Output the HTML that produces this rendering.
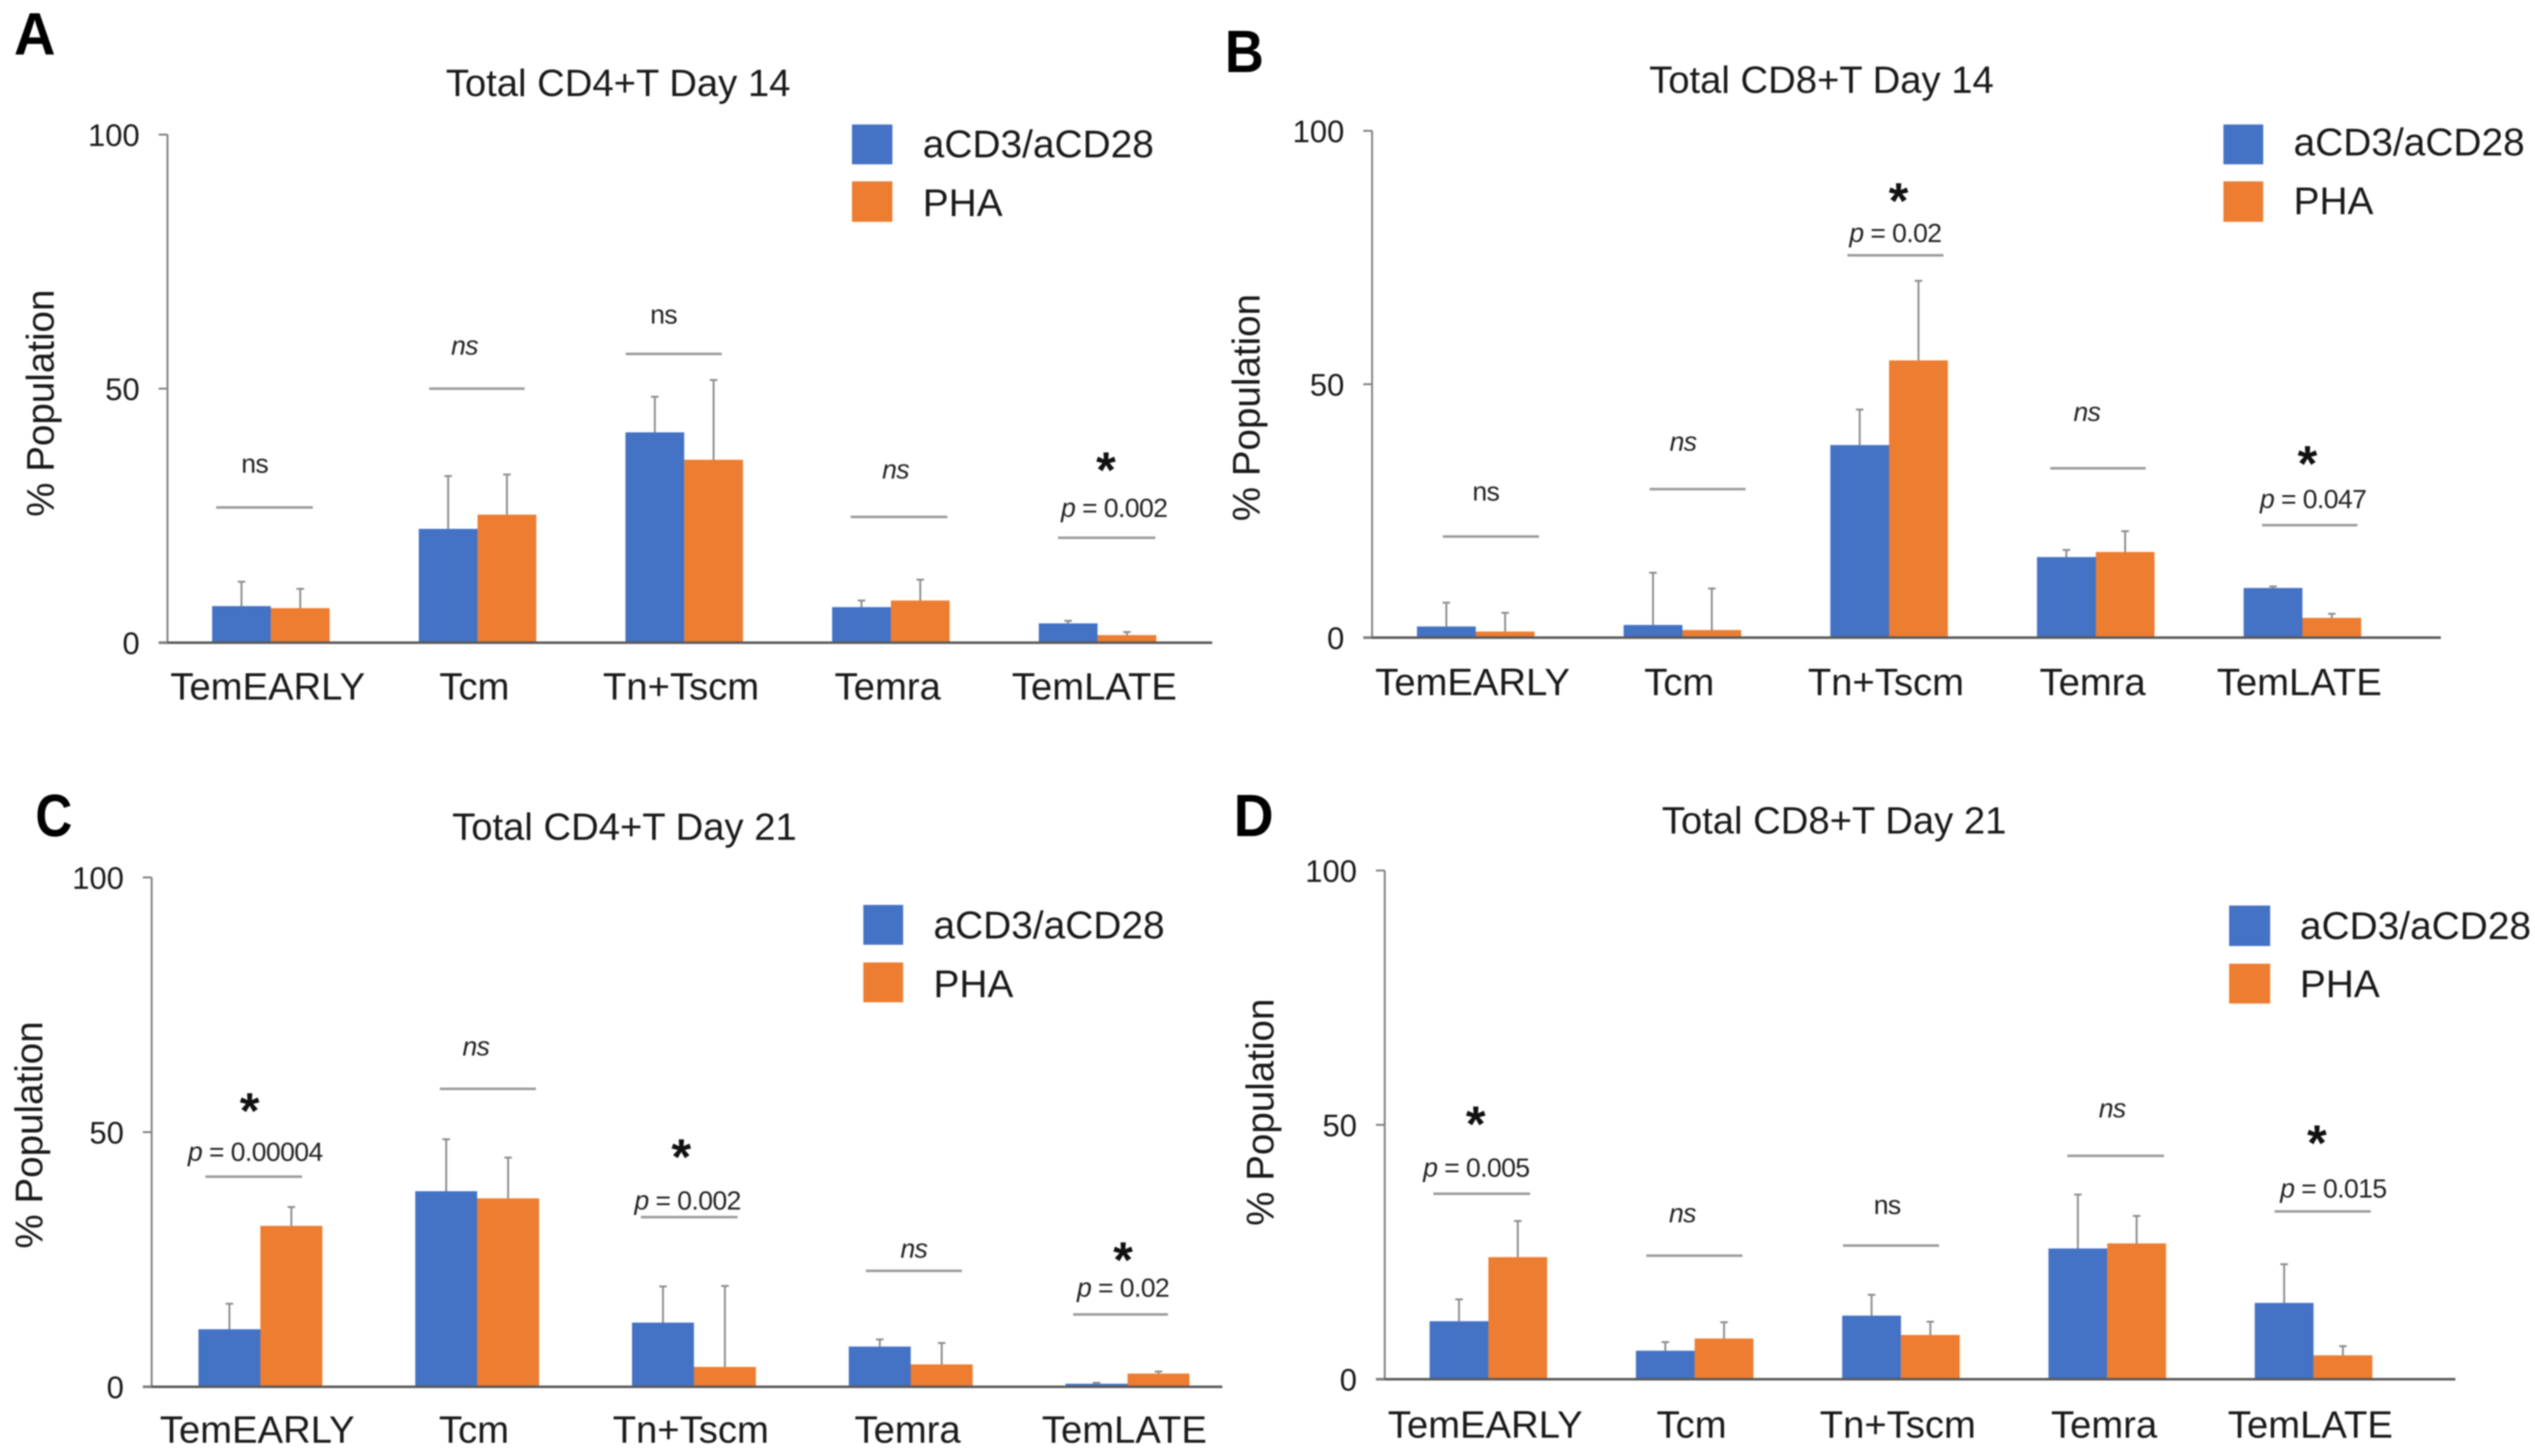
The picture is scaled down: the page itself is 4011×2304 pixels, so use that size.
<!DOCTYPE html>
<html lang="en">
<head>
<meta charset="utf-8">
<title>T cell memory subsets: aCD3/aCD28 vs PHA</title>
<style>
  html, body { margin: 0; padding: 0; background: #fff; }
  svg { display: block; font-family: "Liberation Sans", sans-serif; filter: blur(1px); }
  .sig { stroke: #9a9a9a; stroke-width: 4; }
  .note { font-size: 42px; letter-spacing: -0.9px; text-anchor: middle; fill: #222; }
  .ital { font-style: italic; }
  .star { font-size: 80px; font-weight: 700; text-anchor: middle; fill: #111; }
  .letter { font-size: 95px; font-weight: 700; fill: #000; }
  .title { font-size: 60.5px; text-anchor: middle; fill: #1a1a1a; }
  .legend-label { font-size: 61.5px; fill: #1a1a1a; }
</style>
</head>
<body>
<svg id="figure" xmlns="http://www.w3.org/2000/svg" width="4011" height="2304" viewBox="0 0 4011 2304">
  <rect width="4011" height="2304" fill="#fff"/>

  <g id="panel-a">
    <text class="letter" transform="translate(22 86) scale(.96 1)">A</text>
    <text class="title" x="978" y="152">Total CD4+T Day 14</text>
    <text font-size="61" fill="#1a1a1a" text-anchor="middle" transform="translate(85 638) rotate(-90)">% Population</text>
    <g>
      <rect x="1348" y="197" width="64" height="63" fill="#4472c4"/>
      <text class="legend-label" x="1460" y="249">aCD3/aCD28</text>
      <rect x="1348" y="287" width="64" height="64" fill="#ed7d31"/>
      <text class="legend-label" x="1460" y="342">PHA</text>
    </g>
    <g>
      <line class="sig" x1="342" x2="495" y1="803" y2="803"/>
      <text class="note" x="403" y="748">ns</text>
      <line class="sig" x1="679" x2="830" y1="615" y2="615"/>
      <text class="note ital" x="735" y="561">ns</text>
      <line class="sig" x1="990" x2="1142" y1="560" y2="560"/>
      <text class="note" x="1050" y="512">ns</text>
      <line class="sig" x1="1346" x2="1499" y1="818" y2="818"/>
      <text class="note ital" x="1417" y="757">ns</text>
      <line class="sig" x1="1674" x2="1828" y1="851" y2="851"/>
      <text class="star" x="1750" y="771">*</text>
      <text class="note" x="1763" y="818"><tspan class="ital">p</tspan> = 0.002</text>
    </g>
  </g>

  <g id="panel-b">
    <text class="letter" transform="translate(1938 114) scale(.9 1)">B</text>
    <text class="title" x="2882" y="147">Total CD8+T Day 14</text>
    <text font-size="61" fill="#1a1a1a" text-anchor="middle" transform="translate(1993 645) rotate(-90)">% Population</text>
    <g>
      <rect x="3518" y="197" width="63" height="63" fill="#4472c4"/>
      <text class="legend-label" x="3629" y="246">aCD3/aCD28</text>
      <rect x="3518" y="287" width="63" height="64" fill="#ed7d31"/>
      <text class="legend-label" x="3629" y="339">PHA</text>
    </g>
    <g>
      <line class="sig" x1="2283" x2="2435" y1="849" y2="849"/>
      <text class="note" x="2351" y="792">ns</text>
      <line class="sig" x1="2610" x2="2762" y1="774" y2="774"/>
      <text class="note ital" x="2663" y="713">ns</text>
      <line class="sig" x1="2923" x2="3075" y1="404" y2="404"/>
      <text class="star" x="3004" y="345">*</text>
      <text class="note" x="2999" y="383"><tspan class="ital">p</tspan> = 0.02</text>
      <line class="sig" x1="3244" x2="3395" y1="741" y2="741"/>
      <text class="note ital" x="3302" y="666">ns</text>
      <line class="sig" x1="3579" x2="3730" y1="831" y2="831"/>
      <text class="star" x="3651" y="761">*</text>
      <text class="note" x="3660" y="804"><tspan class="ital">p</tspan> = 0.047</text>
    </g>
  </g>

  <g id="panel-c">
    <text class="letter" transform="translate(56 1323) scale(.85 1)">C</text>
    <text class="title" x="988" y="1329">Total CD4+T Day 21</text>
    <text font-size="61" fill="#1a1a1a" text-anchor="middle" transform="translate(67 1796) rotate(-90)">% Population</text>
    <g>
      <rect x="1366" y="1432" width="63" height="63" fill="#4472c4"/>
      <text class="legend-label" x="1477" y="1485">aCD3/aCD28</text>
      <rect x="1366" y="1523" width="63" height="63" fill="#ed7d31"/>
      <text class="legend-label" x="1477" y="1578">PHA</text>
    </g>
    <g>
      <line class="sig" x1="325" x2="478" y1="1862" y2="1862"/>
      <text class="star" x="395" y="1785">*</text>
      <text class="note" x="404" y="1837"><tspan class="ital">p</tspan> = 0.00004</text>
      <line class="sig" x1="696" x2="848" y1="1723" y2="1723"/>
      <text class="note ital" x="753" y="1670">ns</text>
      <line class="sig" x1="1014" x2="1167" y1="1926" y2="1926"/>
      <text class="star" x="1078" y="1858">*</text>
      <text class="note" x="1088" y="1914"><tspan class="ital">p</tspan> = 0.002</text>
      <line class="sig" x1="1370" x2="1522" y1="2011" y2="2011"/>
      <text class="note ital" x="1446" y="1990">ns</text>
      <line class="sig" x1="1698" x2="1848" y1="2080" y2="2080"/>
      <text class="star" x="1777" y="2021">*</text>
      <text class="note" x="1777" y="2052"><tspan class="ital">p</tspan> = 0.02</text>
    </g>
  </g>

  <g id="panel-d">
    <text class="letter" transform="translate(1952 1323) scale(.92 1)">D</text>
    <text class="title" x="2902" y="1319">Total CD8+T Day 21</text>
    <text font-size="61" fill="#1a1a1a" text-anchor="middle" transform="translate(2015 1760) rotate(-90)">% Population</text>
    <g>
      <rect x="3527" y="1433" width="65" height="64" fill="#4472c4"/>
      <text class="legend-label" x="3639" y="1486">aCD3/aCD28</text>
      <rect x="3527" y="1525" width="65" height="63" fill="#ed7d31"/>
      <text class="legend-label" x="3639" y="1578">PHA</text>
    </g>
    <g>
      <line class="sig" x1="2268" x2="2421" y1="1889" y2="1889"/>
      <text class="star" x="2335" y="1806">*</text>
      <text class="note" x="2336" y="1862"><tspan class="ital">p</tspan> = 0.005</text>
      <line class="sig" x1="2605" x2="2757" y1="1987" y2="1987"/>
      <text class="note ital" x="2662" y="1934">ns</text>
      <line class="sig" x1="2916" x2="3068" y1="1971" y2="1971"/>
      <text class="note" x="2986" y="1921">ns</text>
      <line class="sig" x1="3271" x2="3424" y1="1829" y2="1829"/>
      <text class="note ital" x="3342" y="1768">ns</text>
      <line class="sig" x1="3599" x2="3751" y1="1917" y2="1917"/>
      <text class="star" x="3666" y="1836">*</text>
      <text class="note" x="3692" y="1895"><tspan class="ital">p</tspan> = 0.015</text>
    </g>
  </g>
</svg>

<script>
const categories = ["TemEARLY", "Tcm", "Tn+Tscm", "Temra", "TemLATE"];
const yTickValues = [0, 50, 100];

const aBlue = [7.2, 22.4, 41.4, 7, 3.8];
const aOrange = [6.8, 25.2, 36, 8.3, 1.5];
const aBlueErr = [4.8, 10.4, 7, 1.3, 0.5];
const aOrangeErr = [3.8, 7.9, 15.7, 4.1, 0.6];

const bBlue = [2.2, 2.5, 38, 15.9, 9.8];
const bOrange = [1.2, 1.5, 54.7, 16.9, 3.9];
const bBlueErr = [4.7, 10.3, 7, 1.4, 0.3];
const bOrangeErr = [3.7, 8.2, 15.7, 4.1, 0.8];

const cBlue = [11.3, 38.4, 12.6, 7.9, 0.6];
const cOrange = [31.6, 37, 3.9, 4.4, 2.6];
const cBlueErr = [5, 10.2, 7.1, 1.4, 0.2];
const cOrangeErr = [3.7, 8, 15.9, 4.2, 0.4];

const dBlue = [11.4, 5.6, 12.5, 25.7, 15];
const dOrange = [24, 8, 8.7, 26.7, 4.7];
const dBlueErr = [4.3, 1.7, 4.1, 10.6, 7.6];
const dOrangeErr = [7.1, 3.2, 2.6, 5.4, 1.8];

const NS = "http://www.w3.org/2000/svg";

function make(tag, parent, attrs, text) {
  const el = document.createElementNS(NS, tag);
  for (const k in attrs) el.setAttribute(k, attrs[k]);
  if (text !== undefined) el.textContent = text;
  parent.appendChild(el);
  return el;
}

function drawSeries(group, values, errors, xScale, yScale, side, barW, fill, seriesName) {
  values.forEach(function (v, i) {
    const left = side === 0 ? xScale(i) - barW : xScale(i);
    const bar = make("rect", group, { x: left, y: yScale(v), width: barW, height: yScale(0) - yScale(v), fill: fill });
    
    

    const cx = left + barW / 2;
    const top = yScale(v + errors[i]);
    const stem = make("line", group, { x1: cx, x2: cx, y1: yScale(v), y2: top, stroke: "#8c8c8c", "stroke-width": 3 });
    
    
    const cap = make("line", group, { x1: cx - 6, x2: cx + 6, y1: top, y2: top, stroke: "#8c8c8c", "stroke-width": 3 });
    
    
  });
}

function drawPanel(panelId, blue, orange, blueErr, orangeErr, g) {
  const root = document.getElementById(panelId);
  const chart = make("g", root, {});
  
  

  const yScale = function (v) { return g.y0 + (g.y100 - g.y0) * v / 100; };
  const xScale = function (i) { return g.firstCenter + g.step * i; };

  drawSeries(chart, blue, blueErr, xScale, yScale, 0, g.barW, "#4472c4", "acd3");
  drawSeries(chart, orange, orangeErr, xScale, yScale, 1, g.barW, "#ed7d31", "pha");

  const yAxis = make("line", chart, { x1: g.axisX, x2: g.axisX, y1: yScale(100), y2: yScale(0), stroke: "#808080", "stroke-width": 3 });
  
  

  const xAxis = make("line", chart, { x1: g.axisX - 14, x2: g.axisEnd, y1: yScale(0), y2: yScale(0), stroke: "#595959", "stroke-width": 4 });
  
  

  yTickValues.forEach(function (t) {
    const tick = make("line", chart, { x1: g.axisX - 14, x2: g.axisX, y1: yScale(t), y2: yScale(t), stroke: "#808080", "stroke-width": 3 });
    
    
    const label = make("text", chart, { x: g.axisX - 44, y: yScale(t) + 18, "font-size": 49, "text-anchor": "end", fill: "#1a1a1a" }, String(t));
    
    
  });

  categories.forEach(function (c, i) {
    const label = make("text", chart, { x: xScale(i) - 5, y: g.labelY, "font-size": 60.5, "text-anchor": "middle", fill: "#1a1a1a" }, c);
    
    
  });
}

drawPanel("panel-a", aBlue, aOrange, aBlueErr, aOrangeErr,
  { axisX: 265, axisEnd: 1918, y100: 213, y0: 1017, firstCenter: 428.6, step: 327, barW: 93, labelY: 1107 });
drawPanel("panel-b", bBlue, bOrange, bBlueErr, bOrangeErr,
  { axisX: 2171, axisEnd: 3862, y100: 207, y0: 1009, firstCenter: 2335, step: 327, barW: 93, labelY: 1100 });
drawPanel("panel-c", cBlue, cOrange, cBlueErr, cOrangeErr,
  { axisX: 240, axisEnd: 1934, y100: 1388.5, y0: 2194.5, firstCenter: 412, step: 343, barW: 98, labelY: 2283 });
drawPanel("panel-d", dBlue, dOrange, dBlueErr, dOrangeErr,
  { axisX: 2191, axisEnd: 3885, y100: 1377.5, y0: 2182.5, firstCenter: 2355, step: 326.4, barW: 93, labelY: 2275 });
</script>
</body>
</html>
